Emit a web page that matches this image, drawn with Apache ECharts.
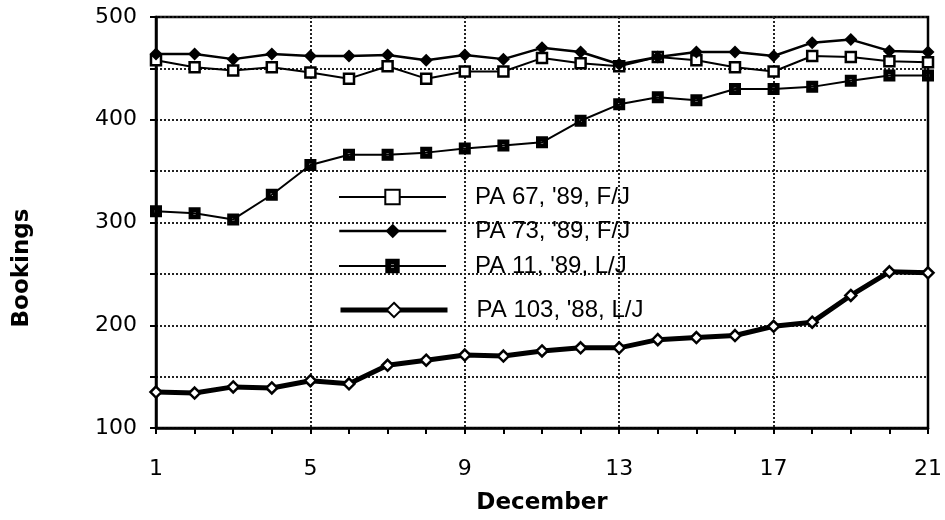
<!DOCTYPE html>
<html>
<head>
<meta charset="utf-8">
<script src="https://cdn.jsdelivr.net/npm/echarts@6/dist/echarts.min.js"></script>
<style>
html,body{margin:0;padding:0;background:#fff;}
#chart{width:945px;height:520px;}
</style>
</head>
<body>
<div id="chart"></div>
<script>
const days = ['1','2','3','4','5','6','7','8','9','10','11','12','13','14','15','16','17','18','19','20','21'];
const seriesNames = ["PA 67, '89, F/J", "PA 73, '89, F/J", "PA 11, '89, L/J", "PA 103, '88, L/J"];
const pa67 = [458, 451, 448, 451, 446, 440, 452, 440, 447, 447, 460, 455, 452, 461, 458, 451, 447, 462, 461, 457, 456];
const pa73 = [464, 464, 459, 464, 462, 462, 463, 458, 463, 459, 470, 466, 454, 461, 466, 466, 462, 475, 478, 467, 466];
const pa11 = [311, 309, 303, 327, 356, 366, 366, 368, 372, 375, 378, 399, 415, 422, 419, 430, 430, 432, 438, 443, 443];
const pa103 = [135, 134, 140, 139, 146, 143, 161, 166, 171, 170, 175, 178, 178, 186, 188, 190, 199, 203, 229, 252, 251];
const yTicks = [100, 200, 300, 400, 500];
const xAxisTitle = 'December';
const yAxisTitle = 'Bookings';

const chart = echarts.init(document.getElementById('chart'), null, {renderer: 'canvas'});
const gridStyle = {color: '#222', width: 2, type: [2, 2]};
const legendRowsY = [192, 226, 261, 305];
const legendLineWidths = [2, 2.5, 2, 5];

function legendFor(i) {
  return {
    data: [seriesNames[i]],
    left: 333,
    top: legendRowsY[i] - 12,
    itemWidth: 107,
    itemHeight: 18,
    selectedMode: false,
    lineStyle: {color: '#000', width: legendLineWidths[i]},
    textStyle: {
      fontFamily: '"Liberation Sans", Arial, sans-serif',
      fontSize: 24,
      color: '#000',
      lineHeight: 24,
      padding: [0, 0, 0, 24]
    }
  };
}

const option = {
  backgroundColor: '#fff',
  animation: false,
  grid: {
    left: 156, right: 16, top: 17, bottom: 85,
    show: true, borderColor: '#000', borderWidth: 2.5, backgroundColor: 'transparent'
  },
  legend: [legendFor(0), legendFor(1), legendFor(2), legendFor(3)],
  xAxis: {
    type: 'category',
    data: days,
    boundaryGap: false,
    name: xAxisTitle,
    nameLocation: 'middle',
    nameGap: 64,
    nameTextStyle: {fontFamily: '"DejaVu Sans", sans-serif', fontSize: 23, fontWeight: 'bold', color: '#000'},
    axisLine: {show: true, lineStyle: {color: '#000', width: 2.5}},
    axisTick: {show: true, interval: 0, length: 6, lineStyle: {color: '#000', width: 2}},
    axisLabel: {
      interval: 3, margin: 30, color: '#000',
      fontFamily: '"DejaVu Sans", sans-serif', fontSize: 22
    },
    splitLine: {
      show: true,
      interval: function (idx) { return idx % 4 === 0 && idx > 0 && idx < 20; },
      lineStyle: gridStyle
    }
  },
  yAxis: {
    type: 'value',
    min: 100, max: 500, interval: 50,
    axisLine: {show: true, lineStyle: {color: '#000', width: 2.5}},
    axisTick: {show: true, length: 6, lineStyle: {color: '#000', width: 2}},
    axisLabel: {
      margin: 19, color: '#000',
      fontFamily: '"DejaVu Sans", sans-serif', fontSize: 22,
      formatter: function (v) { return yTicks.indexOf(v) >= 0 ? String(v) : ''; }
    },
    splitLine: {show: true, lineStyle: gridStyle}
  },
  graphic: [{
    type: 'text',
    x: 22, y: 268,
    rotation: Math.PI / 2,
    style: {
      text: yAxisTitle,
      font: 'bold 23px "DejaVu Sans", sans-serif',
      fill: '#000',
      align: 'center',
      verticalAlign: 'middle'
    }
  }],
  series: [
    {
      name: seriesNames[0], type: 'line', data: pa67,
      symbol: 'rect', symbolSize: 10, showAllSymbol: true,
      lineStyle: {color: '#000', width: 2},
      itemStyle: {color: '#fff', borderColor: '#000', borderWidth: 2.5},
      z: 3
    },
    {
      name: seriesNames[1], type: 'line', data: pa73,
      symbol: 'diamond', symbolSize: 13, showAllSymbol: true,
      lineStyle: {color: '#000', width: 2.5},
      itemStyle: {color: '#000', borderColor: '#000', borderWidth: 0},
      z: 4
    },
    {
      name: seriesNames[2], type: 'line', data: pa11,
      symbol: 'path://M0,0L10,0L10,10L0,10Z M4,4L4,6L6,6L6,4Z', symbolSize: 12, showAllSymbol: true,
      lineStyle: {color: '#000', width: 2},
      itemStyle: {color: '#000', borderWidth: 0},
      z: 3
    },
    {
      name: seriesNames[3], type: 'line', data: pa103,
      symbol: 'diamond', symbolSize: 11, showAllSymbol: true,
      lineStyle: {color: '#000', width: 5},
      itemStyle: {color: '#fff', borderColor: '#000', borderWidth: 2.5},
      z: 5
    }
  ]
};
chart.setOption(option);
</script>
</body>
</html>
